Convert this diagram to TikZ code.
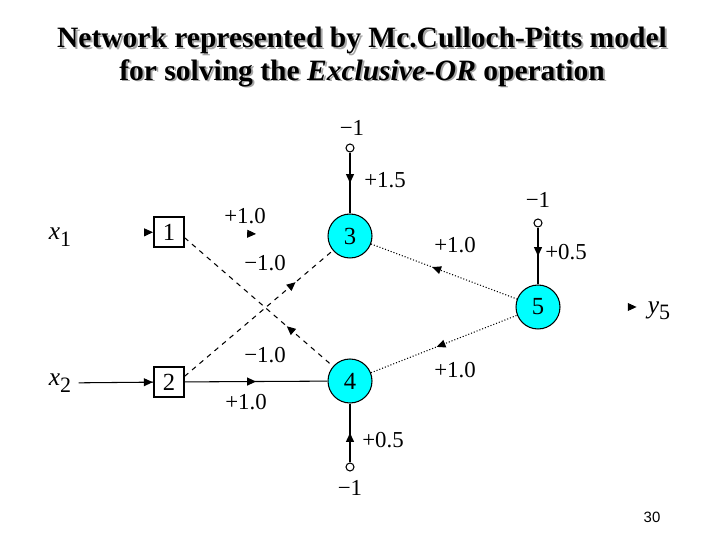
\documentclass[tikz,border=0pt]{standalone}
\usepackage{fontspec}
\setmainfont{Liberation Serif}
\newfontfamily\pagefont{Liberation Sans}
\usetikzlibrary{arrows.meta,decorations.markings}

\definecolor{unitcyan}{RGB}{0,255,255}
\newcommand{\subvar}[2]{\textit{#1}\raisebox{-0.55ex}{\fontsize{12.5}{12.5}\selectfont #2}}

\tikzset{
  unit/.style={draw, circle, fill=unitcyan, line width=0.6pt, minimum size=0.88cm,
               inner sep=0pt, font=\fontsize{14}{14}\selectfont},
  inbox/.style={draw, rectangle, line width=0.6pt, minimum size=0.6cm,
                inner sep=0pt, font=\fontsize{14}{14}\selectfont},
  bias/.style={draw, circle, fill=white, line width=0.6pt, minimum size=0.16cm, inner sep=0pt},
  wt/.style={inner sep=0pt, font=\fontsize{13}{13}\selectfont},
  link/.style={line width=0.6pt},
  dashlink/.style={line width=0.6pt, dash pattern=on 2.8pt off 2.8pt},
  dotlink/.style={line width=0.6pt, dash pattern=on 0.6pt off 1.1pt},
  tip at/.style={postaction={decorate}, decoration={markings,
      mark=at position #1 with {\arrow{Triangle[length=5pt,width=4.5pt]}}}},
  tip back/.style={postaction={decorate}, decoration={markings,
      mark=at position #1 with {\arrowreversed{Triangle[length=5pt,width=4.5pt]}}}}
}

\begin{document}
\begin{tikzpicture}[x=0.02cm, y=-0.02cm]
\useasboundingbox (0,0) rectangle (720,540);

% Title with drop shadow
\node[text=gray!70, align=center, font=\bfseries\fontsize{16.8}{18.7}\selectfont] (titleshadow) at (364,58.5)
  {Network represented by Mc.Culloch-Pitts model\\ for solving the \textit{Exclusive-OR} operation};
\node[align=center, font=\bfseries\fontsize{16.8}{18.7}\selectfont] (title) at (362,57)
  {Network represented by Mc.Culloch-Pitts model\\ for solving the \textit{Exclusive-OR} operation};

% Inputs
\node[inner sep=1pt, font=\fontsize{14.5}{14.5}\selectfont] (x1) at (60,237) {\subvar{x}{1}};
\node[inner sep=1pt, font=\fontsize{14.5}{14.5}\selectfont] (x2) at (60,383) {\subvar{x}{2}};
\node[inbox] (b1) at (169,232) {1};
\node[inbox] (b2) at (169,382) {2};

% Neurons
\node[unit] (c3) at (350,236) {3};
\node[unit] (c4) at (350,381) {4};
\node[unit] (c5) at (538,307) {5};

% Thresholds
\node[bias] (t3) at (350,148) {};
\node[bias] (t4) at (350,467) {};
\node[bias] (t5) at (538,223) {};
\foreach \t/\x/\y in {t3/352/128, t4/350/488, t5/538/200}
  \node[wt] (\t m) at (\x,\y) {−1};

% Output
\node[inner sep=1pt, font=\fontsize{14.5}{14.5}\selectfont] (y5) at (659,311) {\subvar{y}{5}};
\coordinate (yend) at (645,307);
\coordinate (x1end) at (100,233);

% Connections
\path[tip at=0.99] (x1end) -- (b1);
\draw[link, shorten <=3pt, tip at=0.99] (x2) -- (b2);
\path[tip at=0.5] (b1) -- (c3);
\draw[link, tip at=0.5] (b2) -- (c4);
\draw[dashlink, tip back=0.69] (b1.-20) -- (c4);
\draw[dashlink, tip at=0.75] (b2.20) -- (c3);
\draw[dotlink, tip back=0.42] (c3) -- (c5);
\draw[dotlink, tip back=0.45] (c4) -- (c5);
\draw[link, tip at=0.5] (t3) -- (c3);
\draw[link, tip at=0.5] (t4) -- (c4);
\draw[link, tip at=0.5] (t5) -- (c5);
\path[tip at=0.9] (c5) -- (yend);

% Weights
\node[wt] (w13) at (245,216) {+1.0};
\node[wt] (w23) at (265,263) {−1.0};
\node[wt] (w14) at (265,355) {−1.0};
\node[wt] (w24) at (246,402) {+1.0};
\node[wt] (w35) at (455,245) {+1.0};
\node[wt] (w45) at (455,370) {+1.0};
\node[wt] (w3) at (385,180) {+1.5};
\node[wt] (w5) at (566,252) {+0.5};
\node[wt] (w4) at (383,440) {+0.5};

% Page number
\node[font=\pagefont\fontsize{8.5}{8.5}\selectfont, inner sep=0pt] (page) at (652,517) {30};
\end{tikzpicture}
\end{document}
